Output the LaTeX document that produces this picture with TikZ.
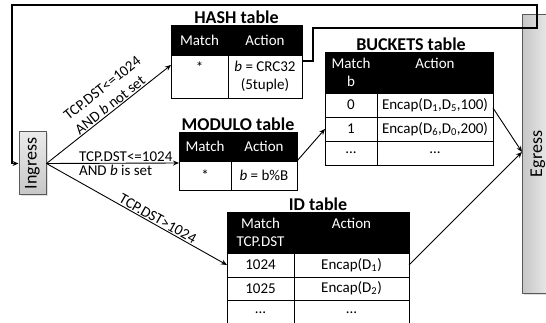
\documentclass[tikz,border=0pt]{standalone}
\usepackage{fontspec}
\usepackage{graphicx}
\setmainfont{Carlito}
\usetikzlibrary{arrows.meta,shadows}
\begin{document}
\begin{tikzpicture}[x=1pt,y=-1pt,
  cellbase/.style={draw=black, line width=0.8pt, inner sep=0pt, outer sep=0pt, align=center, font=\fontsize{15}{18}\selectfont},
  hd/.style={cellbase, fill=black, text=white},
  bd/.style={cellbase, fill=white},
  ttl/.style={font=\bfseries\fontsize{18}{20}\selectfont, anchor=south, inner sep=1pt},
  lbl/.style={font=\fontsize{15}{17}\selectfont, inner sep=1pt, align=center},
  arr/.style={line width=0.9pt, -{Stealth[length=6pt,width=5pt]}},
  loop/.style={line width=1.1pt, -{Stealth[length=6pt,width=5pt]}},
  portbox/.style={draw=black!65, line width=1pt, inner sep=0pt, font=\fontsize{18}{20}\selectfont,
     drop shadow={opacity=0.25, shadow xshift=1.5pt, shadow yshift=-1.5pt}}
]
\useasboundingbox (0,0) rectangle (546,323);

% Egress and Ingress
\node[portbox, left color=black!22, right color=black!6, minimum width=31pt, minimum height=278pt] (egress) at (538,154) {\rotatebox{90}{Egress}};
\node[portbox, top color=black!8, bottom color=black!22, minimum width=27pt, minimum height=63pt] (ingress) at (32.5,163.5) {\rotatebox{90}{Ingress}};

% HASH table
\node[hd, minimum width=57pt, minimum height=30pt] (hashHM) at (199.5,40) {Match};
\node[hd, minimum width=74pt, minimum height=30pt] (hashHA) at (265,40) {Action};
\node[bd, minimum width=57pt, minimum height=43pt] (hashBM) at (199.5,76.5) {*\\\mbox{}};
\node[bd, minimum width=74pt, minimum height=43pt] (hashBA) at (265,76.5) {\textit{b} = CRC32\\(5tuple)};
\node[ttl] (hashT) at (236.5,25) {HASH table};

% MODULO table
\node[hd, minimum width=52pt, minimum height=29pt] (modHM) at (205,146.5) {Match};
\node[hd, minimum width=66pt, minimum height=29pt] (modHA) at (264,146.5) {Action};
\node[bd, minimum width=52pt, minimum height=29pt] (modBM) at (205,175.5) {*};
\node[bd, minimum width=66pt, minimum height=29pt] (modBA) at (264,175.5) {\textit{b} = b\%B};
\node[ttl] (modT) at (238,132) {MODULO table};

% BUCKETS table
\node[hd, minimum width=52pt, minimum height=41pt] (bkHM) at (351,72.5) {Match\\b};
\node[hd, minimum width=116pt, minimum height=41pt] (bkHA) at (435,72.5) {Action\\\mbox{}};
\node[bd, minimum width=52pt, minimum height=24pt] (bkR0M) at (351,105) {0};
\node[bd, minimum width=116pt, minimum height=24pt] (bkR0A) at (435,105) {Encap(D\textsubscript{1},D\textsubscript{5},100)};
\node[bd, minimum width=52pt, minimum height=24pt] (bkR1M) at (351,129) {1};
\node[bd, minimum width=116pt, minimum height=24pt] (bkR1A) at (435,129) {Encap(D\textsubscript{6},D\textsubscript{0},200)};
\node[bd, minimum width=52pt, minimum height=24pt] (bkR2M) at (351,153) {...};
\node[bd, minimum width=116pt, minimum height=24pt] (bkR2A) at (435,153) {...};
\node[ttl] (bkT) at (411,52) {BUCKETS table};

% ID table
\node[hd, minimum width=67pt, minimum height=41pt] (idHM) at (260.5,232.5) {Match\\TCP.DST};
\node[hd, minimum width=115pt, minimum height=41pt] (idHA) at (351.5,232.5) {Action\\\mbox{}};
\node[bd, minimum width=67pt, minimum height=24pt] (idR1M) at (260.5,265) {1024};
\node[bd, minimum width=115pt, minimum height=24pt] (idR1A) at (351.5,265) {Encap(D\textsubscript{1})};
\node[bd, minimum width=67pt, minimum height=23pt] (idR2M) at (260.5,288.5) {1025};
\node[bd, minimum width=115pt, minimum height=23pt] (idR2A) at (351.5,288.5) {Encap(D\textsubscript{2})};
\node[bd, minimum width=67pt, minimum height=26pt] (idR3M) at (260.5,313) {...};
\node[bd, minimum width=115pt, minimum height=26pt] (idR3A) at (351.5,313) {...};
\node[ttl] (idT) at (318,212) {ID table};

% connectors from ingress
\draw[arr] (ingress.east) -- ([yshift=-10pt]hashBM.north west)
  node[lbl, align=left, pos=0.57, sloped, above] (lblHash) {TCP.DST<=1024\\[1pt]AND \textit{b} not set};
\draw[arr] (ingress.east) -- ([yshift=-2pt]modBM.north west)
  node[lbl, pos=0.235, anchor=south west] (lblMod1) {TCP.DST<=1024}
  node[lbl, pos=0.235, anchor=north west] (lblMod2) {AND \textit{b} is set};
\draw[arr] (ingress.east) -- (idR1M.west)
  node[lbl, pos=0.6, sloped, above] (lblId) {TCP.DST>1024};

% other connectors
\draw[arr] (modBA.north east) -- (bkR1M.west);
\draw[arr] ([yshift=-3pt]bkR0A.east) -- ([yshift=2pt]egress.west);
\draw[arr] (idR1A.east) -- ([yshift=2pt]egress.west);

% loop back from HASH to ingress
\coordinate (k1) at (313,28);
\coordinate (k2) at (537,28);
\coordinate (k3) at (537,5);
\coordinate (k4) at (12,5);
\draw[loop] ([yshift=-6pt]hashBA.north east) -| (k1) -- (k2) -- (k3) -- (k4) |- (ingress.west);
\end{tikzpicture}
\end{document}
